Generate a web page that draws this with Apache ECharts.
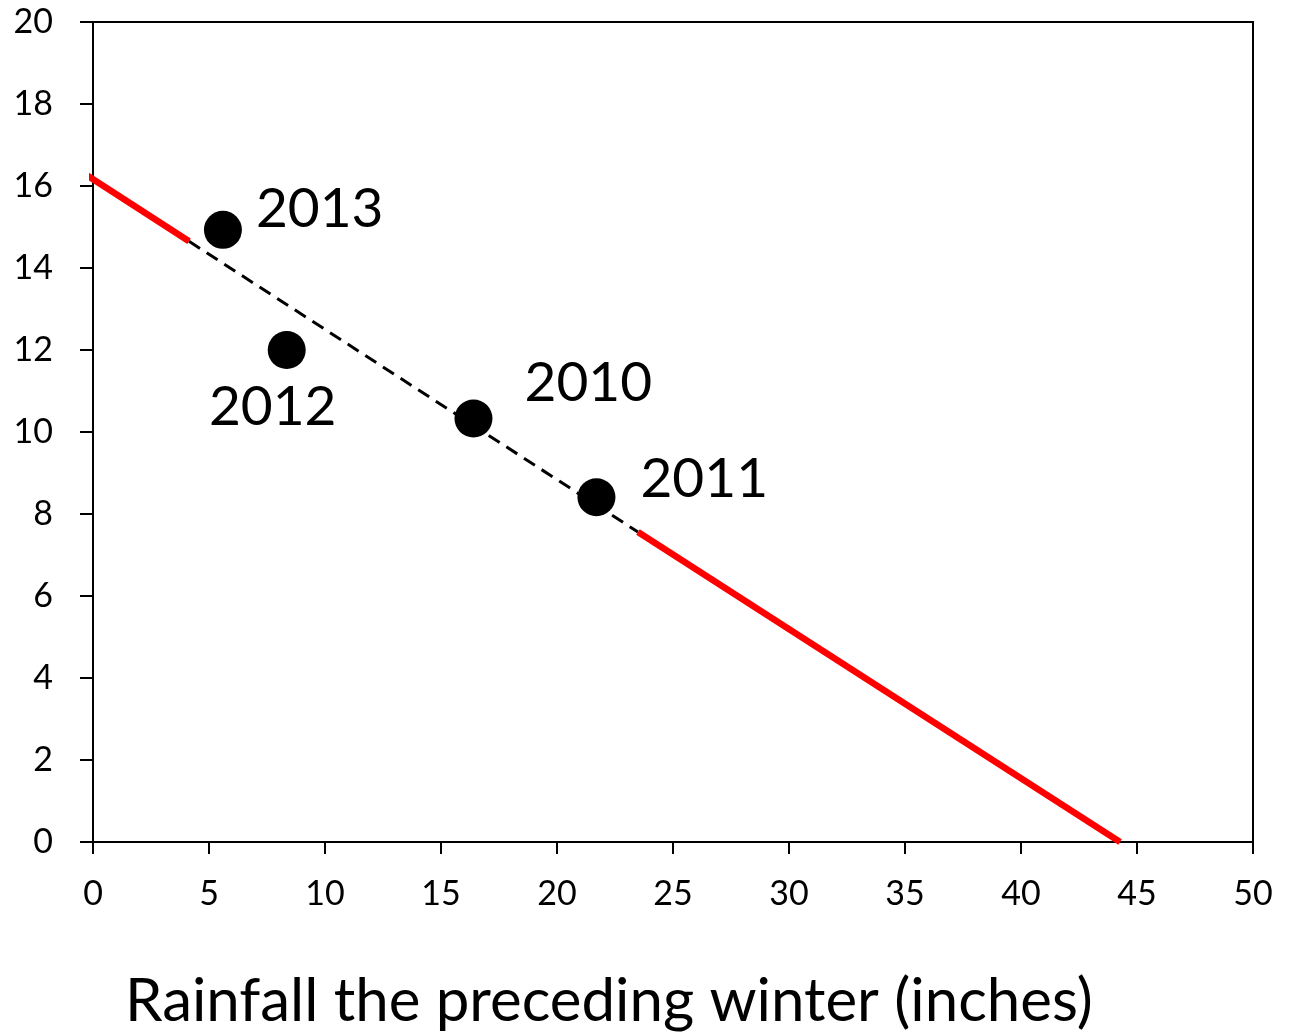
<!DOCTYPE html>
<html>
<head>
<meta charset="utf-8">
<script src="https://cdn.jsdelivr.net/npm/echarts@6/dist/echarts.min.js"></script>
<style>html,body{margin:0;padding:0;background:#fff;}#c{width:1289px;height:1033px;}</style>
</head>
<body>
<div id="c"></div>
<script>
// Observed points: [rainfall, value, year]
const years = ['2013', '2012', '2010', '2011'];
const rainfall = [5.6, 8.35, 16.4, 21.7];
const values = [14.93, 12.0, 10.33, 8.41];
// Fit line pieces (x, y)
const redLeft = [[-0.43, 16.32], [4.14, 14.65]];
const dashedMid = [[4.14, 14.65], [23.49, 7.56]];
const redRight = [[23.49, 7.56], [44.27, 0]];
const xTicks = [0, 5, 10, 15, 20, 25, 30, 35, 40, 45, 50];
const yTicks = [0, 2, 4, 6, 8, 10, 12, 14, 16, 18, 20];
const xTitle = 'Rainfall the preceding winter (inches)';

// label placement per year (relative to symbol box)
const labelPos = {
  '2013': { position: [52, -2], align: 'left' },
  '2012': { position: [5, 76], align: 'center' },
  '2010': { position: [70, -16], align: 'left' },
  '2011': { position: [63, 1], align: 'left' }
};

const font = 'Lato, "Open Sans", sans-serif';
const chart = echarts.init(document.getElementById('c'), null, { renderer: 'canvas' });

const pts = years.map((y, i) => ({
  value: [rainfall[i], values[i]],
  label: {
    show: true,
    formatter: y,
    position: labelPos[y].position,
    align: labelPos[y].align,
    verticalAlign: 'middle',
    fontSize: 55,
    fontFamily: font,
    color: '#000'
  }
}));

chart.setOption({
  animation: false,
  backgroundColor: '#fff',
  title: {
    text: xTitle,
    left: 120,
    top: 967,
    textStyle: { fontSize: 60, fontFamily: font, fontWeight: 'normal', color: '#000' }
  },
  grid: {
    left: 93, top: 22, width: 1160, height: 820,
    show: true, borderColor: '#000', borderWidth: 2, backgroundColor: 'transparent'
  },
  xAxis: {
    type: 'value', min: xTicks[0], max: xTicks[xTicks.length - 1], interval: 5,
    axisLine: { show: true, onZero: false, lineStyle: { color: '#000', width: 2 } },
    axisTick: { show: true, inside: false, length: 12, lineStyle: { color: '#000', width: 2 } },
    axisLabel: { margin: 35, fontSize: 34, fontFamily: font, color: '#000' },
    splitLine: { show: false }
  },
  yAxis: {
    type: 'value', min: yTicks[0], max: yTicks[yTicks.length - 1], interval: 2,
    axisLine: { show: true, onZero: false, lineStyle: { color: '#000', width: 2 } },
    axisTick: { show: true, inside: false, length: 13, lineStyle: { color: '#000', width: 2 } },
    axisLabel: { margin: 40, fontSize: 34, fontFamily: font, color: '#000' },
    splitLine: { show: false }
  },
  series: [
    {
      type: 'line', data: redLeft, symbol: 'none', clip: false,
      lineStyle: { color: '#ff0000', width: 6.5 }, z: 3
    },
    {
      type: 'line', data: dashedMid, symbol: 'none', clip: false,
      lineStyle: { color: '#000', width: 3, type: [13, 8] }, z: 3
    },
    {
      type: 'line', data: redRight, symbol: 'none', clip: false,
      lineStyle: { color: '#ff0000', width: 6.5 }, z: 3
    },
    {
      type: 'scatter', data: pts, symbol: 'circle', symbolSize: 38,
      itemStyle: { color: '#000', opacity: 1 }, z: 5
    }
  ]
});
</script>
</body>
</html>
